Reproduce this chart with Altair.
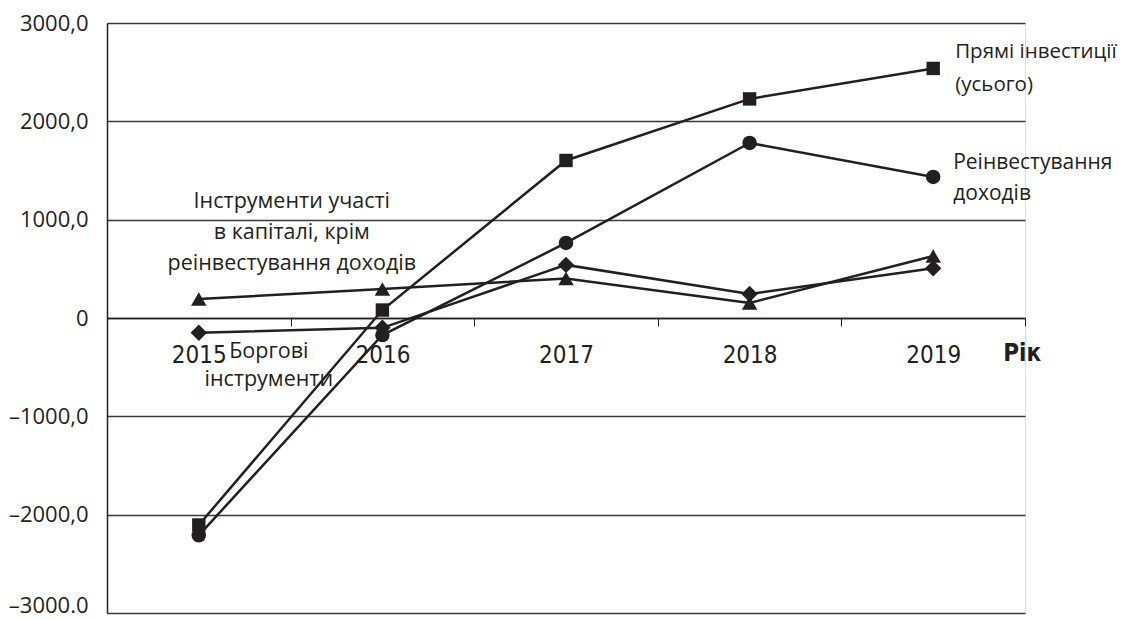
import altair as alt
import pandas as pd

years = ["2015", "2016", "2017", "2018", "2019"]
series_names = [
    "Прямі інвестиції (усього)",
    "Реінвестування доходів",
    "Інструменти участі в капіталі, крім реінвестування доходів",
    "Боргові інструменти",
]
direct = [-2105, 81, 1602, 2228, 2538]
reinvest = [-2210, -173, 763, 1780, 1434]
equity = [193, 295, 402, 153, 630]
debt = [-150, -100, 540, 244, 505]
series_values = [direct, reinvest, equity, debt]
shapes = ["square", "circle", "triangle-up", "diamond"]
sizes = [180, 270, 330, 330]

y_ticks = [3000, 2000, 1000, 0, -1000, -2000, -3000]
y_labels = ["3000,0", "2000,0", "1000,0", "0", "–1000,0", "–2000,0", "–3000.0"]

ann_texts = [
    "Прямі інвестиції\n(усього)",
    "Реінвестування\nдоходів",
    "Інструменти участі\nв капіталі, крім\nреінвестування доходів",
    "Боргові\nінструменти",
]
ann_years = ["2019", "2019", "2015", "2015"]
ann_values = [2706, 1577, 1180, -346]
axis_title = "Рік"
axis_title_value = -366

rows = []
for name, vals in zip(series_names, series_values):
    for y, v in zip(years, vals):
        rows.append({"year": y, "value": v, "series": name})
df = pd.DataFrame(rows)

ann_df = pd.DataFrame({"year": ann_years, "value": ann_values, "text": ann_texts,
                       "idx": list(range(len(ann_texts)))})
title_df = pd.DataFrame({"year": [years[-1]], "value": [axis_title_value], "text": [axis_title]})

W, H = 918, 590
INK = "#231f20"
FONT = "Open Sans"
NARROW = "Liberation Sans Narrow, DejaVu Sans Condensed, sans-serif"

label_expr = ""
for v, l in zip(y_ticks, y_labels):
    label_expr += f"datum.value == {v} ? '{l}' : "
label_expr += "''"

xscale = alt.Scale(type="band", domain=years, paddingInner=0, paddingOuter=0)
yscale = alt.Scale(domain=[-3000, 3000], nice=False, zero=False)

x_enc = alt.X(
    "year:O", scale=xscale, bandPosition=0.5,
    axis=alt.Axis(
        title=None, offset=-H / 2, tickBand="extent", labelAngle=0,
        labelFont=NARROW, labelFontSize=24, labelColor=INK, labelPadding=17,
        tickSize=8, tickColor=INK, domainColor=INK, domainWidth=1.5, grid=False,
    ),
)
y_enc = alt.Y(
    "value:Q", scale=yscale,
    axis=alt.Axis(
        title=None, values=y_ticks, labelExpr=label_expr, grid=True,
        gridColor="#3a3a3a", gridWidth=1.5, ticks=False, domain=True,
        domainColor=INK, domainWidth=1.5, labelFont=FONT, labelFontSize=22,
        labelColor=INK, labelPadding=19,
        labelOffset={"condition": {"test": "datum.value == -3000", "value": -8}, "value": 0},
    ),
)

base = alt.Chart(df)
lines = base.mark_line(color=INK, strokeWidth=2.5).encode(
    x=x_enc, y=y_enc, detail="series:N"
)
points = base.mark_point(filled=True, opacity=1, color=INK).encode(
    x=alt.X("year:O", scale=xscale, bandPosition=0.5),
    y=alt.Y("value:Q", scale=yscale),
    shape=alt.Shape("series:N", scale=alt.Scale(domain=series_names, range=shapes), legend=None),
    size=alt.Size("series:N", scale=alt.Scale(domain=series_names, range=sizes), legend=None),
)

ann_specs = [
    (0, "left", 22, 33, 20.5),
    (1, "left", 20, 31, 21),
    (2, "center", 93, 31, 21.5),
    (3, "center", 70, 28, 21.5),
]
ann_layers = []
for idx, align, dx, lh, fs in ann_specs:
    ann_layers.append(
        alt.Chart(ann_df).transform_filter(alt.datum.idx == idx).mark_text(
            align=align, baseline="middle", dx=dx, lineBreak="\n", lineHeight=lh,
            font=FONT, fontSize=fs, color=INK,
        ).encode(
            x=alt.X("year:O", scale=xscale, bandPosition=0.5),
            y=alt.Y("value:Q", scale=yscale),
            text="text:N",
        )
    )

title_layer = alt.Chart(title_df).mark_text(
    align="left", baseline="middle", dx=70, font=NARROW, fontSize=24,
    fontWeight="bold", color=INK,
).encode(
    x=alt.X("year:O", scale=xscale, bandPosition=0.5),
    y=alt.Y("value:Q", scale=yscale),
    text="text:N",
)

chart = alt.layer(lines, points, *ann_layers, title_layer).properties(
    width=W, height=H,
    autosize=alt.AutoSizeParams(type="none"),
    padding={"left": 99, "top": 15, "right": 104, "bottom": 7},
).configure_view(stroke=None).configure(background="white")

chart.save("out.html", embed_options={"renderer": "svg", "actions": False})
